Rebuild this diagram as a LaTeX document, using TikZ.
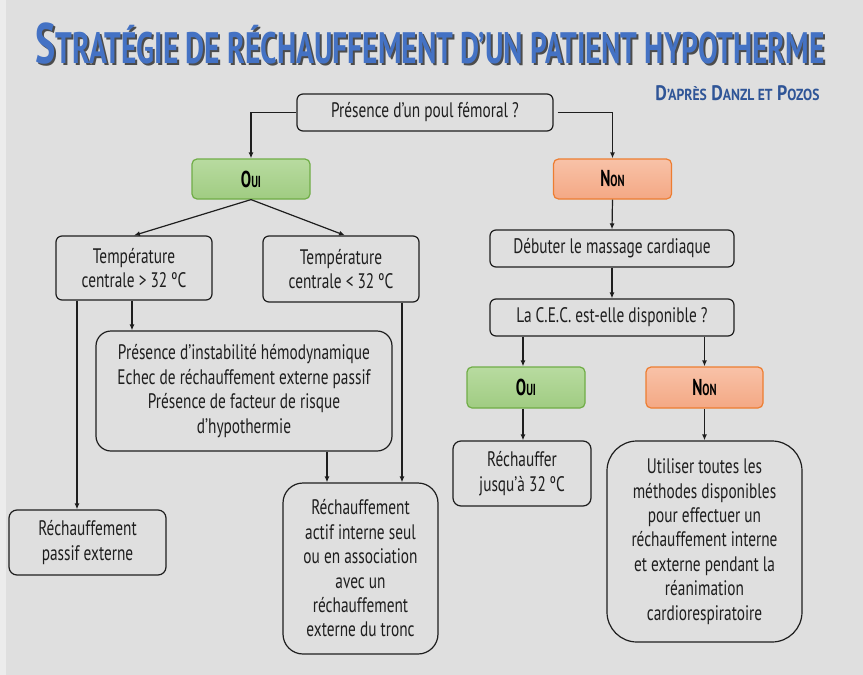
\documentclass[tikz,border=0pt]{standalone}
\usepackage{fontspec}
\setmainfont{PT Sans}[FakeStretch=0.73]
\newfontfamily\titrefont{PT Sans}[FakeStretch=0.67]
\newfontfamily\sourcefont{PT Sans}[FakeStretch=0.85]
\usetikzlibrary{arrows.meta}
\definecolor{fondGris}{RGB}{223,223,223}
\definecolor{bleuTitre}{RGB}{68,114,196}
\definecolor{bleuSource}{RGB}{47,85,151}
\definecolor{vertClair}{RGB}{184,219,160}
\definecolor{vertFond}{RGB}{160,204,130}
\definecolor{vertBord}{RGB}{112,173,71}
\definecolor{orangeClair}{RGB}{248,194,168}
\definecolor{orangeFond}{RGB}{244,168,132}
\definecolor{orangeBord}{RGB}{237,125,49}
\definecolor{texteNoir}{RGB}{30,30,30}
% petites capitales simulees
\newcommand\pc[2]{{\fontsize{#1}{#1}\selectfont #2}}

\begin{document}
\begin{tikzpicture}[x=1pt, y=-1pt,
    boite/.style={draw=texteNoir, line width=1.2pt, rounded corners=6pt,
                  align=center, text=texteNoir, inner sep=0pt,
                  font=\fontsize{21}{24.4}\selectfont},
    choix/.style={line width=1.2pt, rounded corners=5pt, inner sep=0pt,
                  minimum width=118pt, minimum height=40pt,
                  font=\titrefont\bfseries\fontsize{23}{23}\selectfont},
    oui/.style={choix, draw=vertBord, top color=vertClair, bottom color=vertFond},
    non/.style={choix, draw=orangeBord, top color=orangeClair, bottom color=orangeFond},
    fleche/.style={-{Latex[length=6pt,width=5pt]}, line width=1.2pt, texteNoir}
  ]
  \useasboundingbox (0,0) rectangle (863,675);
  \fill[fondGris] (0,0) rectangle (863,675);
  \fill[fondGris!60!white] (0,0) rectangle (6,675);

  % titre
  \node[anchor=base, text=black!70, font=\titrefont\bfseries\fontsize{57}{57}\selectfont]
    (ombre) at (432,65) {S\pc{44}{TRATÉGIE DE RÉCHAUFFEMENT D’UN PATIENT HYPOTHERME}};
  \node[anchor=base, text=bleuTitre, font=\titrefont\bfseries\fontsize{57}{57}\selectfont]
    (titre) at (430,63) {S\pc{44}{TRATÉGIE DE RÉCHAUFFEMENT D’UN PATIENT HYPOTHERME}};
  \node[anchor=base east, text=bleuSource, font=\sourcefont\bfseries\fontsize{21}{21}\selectfont]
    (source) at (823,100) {D\pc{16}{’APRÈS} D\pc{16}{ANZL ET} P\pc{16}{OZOS}};

  % noeuds
  \node[boite, minimum width=256pt, minimum height=37pt] (poul) at (425,112.5)
    {Présence d’un poul fémoral ?};
  \node[oui] (oui1) at (251,179) {O\pc{16}{UI}};
  \node[non] (non1) at (612.5,179) {N\pc{16}{ON}};

  \node[boite, minimum width=156pt, minimum height=64pt] (tempsup) at (134,268)
    {Température\\centrale > 32 ºC};
  \node[boite, minimum width=156pt, minimum height=66pt] (tempinf) at (341,269)
    {Température\\centrale < 32 ºC};
  \node[boite, rounded corners=15pt, minimum width=296pt, minimum height=120pt] (criteres) at (244,391)
    {Présence d’instabilité hémodynamique\\Echec de réchauffement externe passif\\
     Présence de facteur de risque\\d’hypothermie};
  \node[boite, rounded corners=8pt, minimum width=157pt, minimum height=65pt] (passif) at (87.5,542.5)
    {Réchauffement\\passif externe};
  \node[boite, rounded corners=20pt, minimum width=155pt, minimum height=171pt] (actif) at (360.5,568.5)
    {Réchauffement\\actif interne seul\\ou en association\\avec un\\réchauffement\\externe du tronc};

  \node[boite, minimum width=244pt, minimum height=37pt] (massage) at (612,248.5)
    {Débuter le massage cardiaque};
  \node[boite, minimum width=244pt, minimum height=37pt] (cec) at (612,317.5)
    {La C.E.C. est-elle disponible ?};
  \node[oui, minimum height=41pt] (oui2) at (526,387.5) {O\pc{16}{UI}};
  \node[non, minimum width=117pt, minimum height=41pt] (non2) at (704.5,387.5) {N\pc{16}{ON}};
  \node[boite, rounded corners=8pt, minimum width=138pt, minimum height=65pt] (rechauffer) at (522,473.5)
    {Réchauffer\\jusqu’à 32 ºC};
  \node[boite, rounded corners=30pt, minimum width=195pt, minimum height=201pt] (methodes) at (704.5,541.5)
    {Utiliser toutes les\\méthodes disponibles\\pour effectuer un\\réchauffement interne\\
     et externe pendant la\\réanimation\\cardiorespiratoire};

  % liaisons
  \draw[fleche] (poul.west) -| (oui1.north);
  \draw[fleche] ([xshift=4pt]poul.east) -| (non1.north);
  \draw[fleche] (oui1.south) -- (tempsup.north);
  \draw[fleche] (oui1.south) -- ([xshift=4pt]tempinf.north);
  \draw[fleche] ([xshift=-2pt]tempsup.south) -- ([xshift=-2pt]tempsup.south |- criteres.north);
  \draw[fleche] ([xshift=-57pt]tempsup.south) -- ([xshift=-57pt]tempsup.south |- passif.north);
  \draw[fleche] ([xshift=83pt]criteres.south) -- ([xshift=83pt]criteres.south |- actif.north);
  \draw[fleche] ([xshift=61pt]tempinf.south) -- ([xshift=61pt]tempinf.south |- actif.north);
  \draw[fleche] (non1.south) -- (massage.north);
  \draw[fleche] (massage.south) -- (cec.north);
  \draw[fleche] ([xshift=-3pt]oui2.north |- cec.south) -- ([xshift=-3pt]oui2.north);
  \draw[fleche] (non2.north |- cec.south) -- (non2.north);
  \draw[fleche] ([xshift=-3pt]oui2.south) -- ([xshift=-3pt]oui2.south |- rechauffer.north);
  \draw[fleche] (non2.south) -- (methodes.north);
\end{tikzpicture}
\end{document}
